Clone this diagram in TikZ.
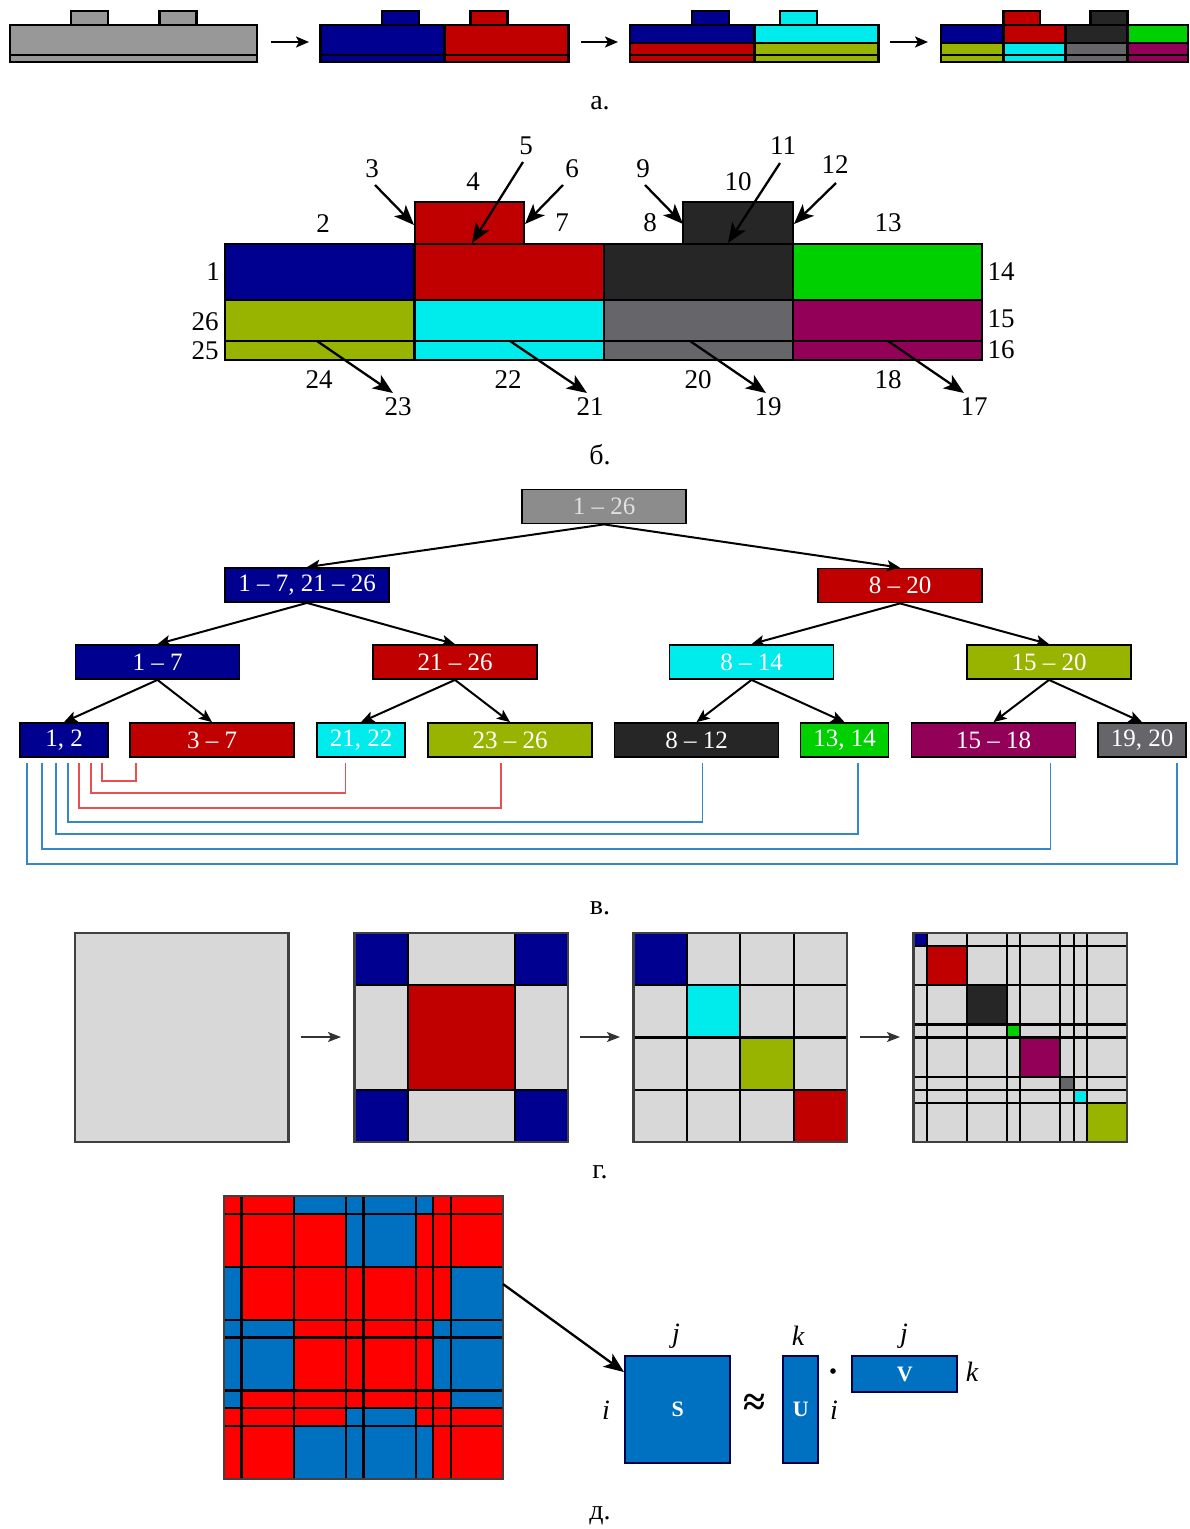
\documentclass[tikz,border=0pt]{standalone}
\usepackage{fontspec}
\setmainfont{Liberation Serif}
\usetikzlibrary{arrows.meta,calc}

\definecolor{cblue}{RGB}{0,0,144}
\definecolor{cred}{RGB}{192,0,0}
\definecolor{ccyan}{RGB}{0,235,235}
\definecolor{colive}{RGB}{153,180,0}
\definecolor{cdark}{RGB}{38,38,38}
\definecolor{cgreen}{RGB}{0,208,0}
\definecolor{cgray}{RGB}{102,102,106}
\definecolor{cpurple}{RGB}{147,0,88}
\definecolor{cbase}{RGB}{152,152,152}
\definecolor{croot}{RGB}{140,140,140}
\definecolor{clight}{RGB}{216,216,216}
\definecolor{mred}{RGB}{255,0,0}
\definecolor{mblue}{RGB}{0,112,192}
\definecolor{linkred}{RGB}{230,80,80}
\definecolor{linkblue}{RGB}{52,136,200}

\newcommand\bnumsize{\fontsize{27}{30}\selectfont}
\newcommand\treesize{\fontsize{25}{28}\selectfont}
\newcommand\capsize{\fontsize{28}{30}\selectfont}

% one row of the block matrix: #1,#2 row bounds in sixteenths, #3 cell colours
\newcommand\matrow[3]{%
  \foreach \cc [count=\c] in {#3} {
    \pgfmathsetmacro\xa{{0,1,4,7,8,11,12,13,16}[\c-1]}
    \pgfmathsetmacro\xb{{0,1,4,7,8,11,12,13,16}[\c]}
    \fill[\cc] (\mx+\xa*\mw/16,\my+#1*\mh/16) rectangle (\mx+\xb*\mw/16,\my+#2*\mh/16);
  }%
}

\begin{document}
\begin{tikzpicture}[x=1pt,y=-1pt,
  box/.style={draw=black,line width=2.4pt},
  bbox/.style={draw=black,line width=2.5pt},
  lab/.style={font=\bnumsize,inner sep=0pt},
  partcap/.style={font=\capsize,inner sep=0pt},
  barr/.style={-{Stealth[length=20pt,width=16pt,inset=5pt]},line width=2.3pt},
  sarr/.style={-{Stealth[length=13pt,width=11pt,inset=3pt]},line width=2.2pt},
  garr/.style={-{Stealth[length=13pt,width=10pt,inset=3pt]},line width=1.8pt,draw=black!80,fill=black!80},
  tarr/.style={-{Stealth[length=13pt,width=11pt,inset=3pt]},line width=2pt},
  tnode/.style={draw=black,line width=1.8pt,minimum height=34pt,inner sep=0pt,text=white,font=\treesize},
  wide/.style={tnode,minimum width=164pt},
  narrow/.style={tnode,minimum width=88pt},
  redlink/.style={draw=linkred,line width=1.7pt},
  bluelink/.style={draw=linkblue,line width=1.7pt},
  grid/.style={draw=black,line width=2.2pt},
  frame/.style={draw=black!75,line width=2.4pt},
  mat/.style={draw=blue!30!black,line width=2.4pt,fill=mblue},
  mlet/.style={text=white,font=\fontsize{22}{24}\selectfont\bfseries,inner sep=0pt},
  mvar/.style={font=\fontsize{28}{30}\selectfont\itshape,inner sep=0pt}
]
\useasboundingbox (0,0) rectangle (1189,1529);
\fill[white] (0,0) rectangle (1189,1529);

% ---------------- a: successive splitting of the layer stack ----------------
% stage 1
\filldraw[box,fill=cbase] (10,25) rectangle (257,55);
\filldraw[box,fill=cbase] (10,55) rectangle (257,62);
\filldraw[box,fill=cbase] (71,11) rectangle (108,25);
\filldraw[box,fill=cbase] (159.5,11) rectangle (196.5,25);
% stage 2
\filldraw[box,fill=cblue] (320.5,25) rectangle (444.5,55);
\filldraw[box,fill=cblue] (320.5,55) rectangle (444.5,62);
\filldraw[box,fill=cred] (444.5,25) rectangle (568.5,55);
\filldraw[box,fill=cred] (444.5,55) rectangle (568.5,62);
\filldraw[box,fill=cblue] (382,11) rectangle (419,25);
\filldraw[box,fill=cred] (470.5,11) rectangle (507.5,25);
% stage 3
\filldraw[box,fill=cblue] (630,25) rectangle (754.5,42.7);
\filldraw[box,fill=cred] (630,42.7) rectangle (754.5,55);
\filldraw[box,fill=cred] (630,55) rectangle (754.5,62);
\filldraw[box,fill=ccyan] (754.5,25) rectangle (878.5,42.7);
\filldraw[box,fill=colive] (754.5,42.7) rectangle (878.5,55);
\filldraw[box,fill=colive] (754.5,55) rectangle (878.5,62);
\filldraw[box,fill=cblue] (692,11) rectangle (729,25);
\filldraw[box,fill=ccyan] (780,11) rectangle (817,25);
% stage 4
\foreach \xa/\xb/\ca/\cb in {941/1003.5/cblue/colive,1003.5/1065.5/cred/ccyan,1065.5/1127.5/cdark/cgray,1127.5/1188/cgreen/cpurple}{
  \filldraw[box,fill=\ca] (\xa,25) rectangle (\xb,42.7);
  \filldraw[box,fill=\cb] (\xa,42.7) rectangle (\xb,55);
  \filldraw[box,fill=\cb] (\xa,55) rectangle (\xb,62);
}
\filldraw[box,fill=cred] (1003.5,11) rectangle (1040,25);
\filldraw[box,fill=cdark] (1090.5,11) rectangle (1127.5,25);
% arrows between stages
\coordinate (a1s) at (271,42);  \coordinate (a1e) at (309,42);
\coordinate (a2s) at (581,42);  \coordinate (a2e) at (618,42);
\coordinate (a3s) at (890,42);  \coordinate (a3e) at (928,42);
\draw[sarr] (a1s) -- (a1e);
\draw[sarr] (a2s) -- (a2e);
\draw[sarr] (a3s) -- (a3e);
\node[partcap] (capa) at (600,103) {а.};

% ---------------- b: numbered faces of the final decomposition ----------------
\filldraw[bbox,fill=cred] (415,202) rectangle (524,244);
\filldraw[bbox,fill=cdark] (683,202) rectangle (793,244);
\foreach \xa/\xb/\ca/\cb in {225/414.5/cblue/colive,414.5/604/cred/ccyan,604/793/cdark/cgray,793/982/cgreen/cpurple}{
  \filldraw[bbox,fill=\ca] (\xa,244) rectangle (\xb,300);
  \filldraw[bbox,fill=\cb] (\xa,300) rectangle (\xb,341);
  \filldraw[bbox,fill=\cb] (\xa,341) rectangle (\xb,360);
}
\node[lab] (n1) at (213,272) {1};
\node[lab] (n2) at (323,224) {2};
\node[lab] (n3) at (372,169) {3};
\node[lab] (n4) at (473,182) {4};
\node[lab] (n5) at (526,146) {5};
\node[lab] (n6) at (572,169) {6};
\node[lab] (n7) at (562,223) {7};
\node[lab] (n8) at (650,223) {8};
\node[lab] (n9) at (643,169) {9};
\node[lab] (n10) at (738,182) {10};
\node[lab] (n11) at (783,146) {11};
\node[lab] (n12) at (835,165) {12};
\node[lab] (n13) at (888,223) {13};
\node[lab] (n14) at (1001,272) {14};
\node[lab] (n15) at (1001,319) {15};
\node[lab] (n16) at (1001,350) {16};
\node[lab] (n17) at (974,407) {17};
\node[lab] (n18) at (888,380) {18};
\node[lab] (n19) at (768,407) {19};
\node[lab] (n20) at (698,380) {20};
\node[lab] (n21) at (590,407) {21};
\node[lab] (n22) at (508,380) {22};
\node[lab] (n23) at (398,407) {23};
\node[lab] (n24) at (319,380) {24};
\node[lab] (n25) at (205,351) {25};
\node[lab] (n26) at (205,322) {26};
% arrow tails and tips
\coordinate (t3) at (375,185);  \coordinate (h3) at (414,225);
\coordinate (t5) at (523,162);  \coordinate (h5) at (472,243);
\coordinate (t6) at (563,185);  \coordinate (h6) at (525,224);
\coordinate (t9) at (645,185);  \coordinate (h9) at (683,224);
\coordinate (t11) at (780,163); \coordinate (h11) at (728,243);
\coordinate (t12) at (836,183); \coordinate (h12) at (794,224);
\coordinate (t23) at (317,341); \coordinate (h23) at (393,393);
\coordinate (t21) at (510,341); \coordinate (h21) at (587,393);
\coordinate (t19) at (690,341); \coordinate (h19) at (766,393);
\coordinate (t17) at (888,341); \coordinate (h17) at (964,393);
\foreach \k in {3,5,6,9,11,12,23,21,19,17}
  \draw[barr] (t\k) -- (h\k);
\node[partcap] (capb) at (600,455) {б.};

% ---------------- c: partition tree ----------------
\node[wide,fill=croot,text=white!88!black] (root) at (604,506.5) {1 -- 26};
\node[wide,fill=cblue] (l1) at (307,585) {1 -- 7, 21 -- 26};
\node[wide,fill=cred] (r1) at (900,585.5) {8 -- 20};
\node[wide,fill=cblue] (l2a) at (157.5,662) {1 -- 7};
\node[wide,fill=cred] (l2b) at (455,662) {21 -- 26};
\node[wide,fill=ccyan] (r2a) at (751.5,662) {8 -- 14};
\node[wide,fill=colive] (r2b) at (1049,662) {15 -- 20};
\node[narrow,fill=cblue] (c12) at (64,740) {1, 2};
\node[wide,fill=cred] (c37) at (212,740) {3 -- 7};
\node[narrow,fill=ccyan] (c2122) at (361,740) {21, 22};
\node[wide,fill=colive] (c2326) at (510,740) {23 -- 26};
\node[wide,fill=cdark] (c812) at (696.5,740) {8 -- 12};
\node[narrow,fill=cgreen] (c1314) at (844.5,740) {13, 14};
\node[wide,fill=cpurple] (c1518) at (993.5,740) {15 -- 18};
\node[narrow,fill=cgray] (c1920) at (1142,740) {19, 20};
\foreach \p/\q in {root/l1,root/r1,l1/l2a,l1/l2b,r1/r2a,r1/r2b,l2a/c12,l2a/c37,l2b/c2122,l2b/c2326,r2a/c812,r2a/c1314,r2b/c1518,r2b/c1920}
  \draw[tarr] (\p.south) -- (\q.north);
% interaction links from the first leaf
\draw[redlink] ([xshift=83pt,yshift=-5pt]c12.south west) -- ++(0,18) -| ([xshift=7pt,yshift=-5pt]c37.south west);
\draw[redlink] ([xshift=72pt,yshift=-5pt]c12.south west) -- ++(0,30) -| ([xshift=29.5pt,yshift=-5pt]c2122.south west);
\draw[redlink] ([xshift=60pt,yshift=-5pt]c12.south west) -- ++(0,45) -| ([xshift=74pt,yshift=-5pt]c2326.south west);
\draw[bluelink] ([xshift=49pt,yshift=-5pt]c12.south west) -- ++(0,59) -| ([xshift=89pt,yshift=-5pt]c812.south west);
\draw[bluelink] ([xshift=37pt,yshift=-5pt]c12.south west) -- ++(0,71) -| ([xshift=58.5pt,yshift=-5pt]c1314.south west);
\draw[bluelink] ([xshift=23pt,yshift=-5pt]c12.south west) -- ++(0,86) -| ([xshift=140pt,yshift=-5pt]c1518.south west);
\draw[bluelink] ([xshift=8pt,yshift=-5pt]c12.south west) -- ++(0,101) -| ([xshift=80pt,yshift=-5pt]c1920.south west);
\node[partcap] (capc) at (600,908) {в.};

% ---------------- d: block structure of the matrix ----------------
\def\gw{213.5}\def\gh{209}\def\gy{933}
% level 0
\filldraw[frame,fill=clight] (75,\gy) rectangle ++(\gw,\gh);
% level 1
\def\gx{354.5}
\fill[clight] (\gx,\gy) rectangle ++(\gw,\gh);
\foreach \i/\j in {0/0,3/0,0/3,3/3}
  \fill[cblue] (\gx+\i*\gw/4,\gy+\j*\gh/4) rectangle ++(\gw/4,\gh/4);
\fill[cred] (\gx+\gw/4,\gy+\gh/4) rectangle ++(\gw/2,\gh/2);
\foreach \a in {1,3} {
  \draw[grid] (\gx+\a*\gw/4,\gy) -- ++(0,\gh);
  \draw[grid] (\gx,\gy+\a*\gh/4) -- ++(\gw,0);
}
\draw[frame] (\gx,\gy) rectangle ++(\gw,\gh);
% level 2
\def\gx{633.5}
\fill[clight] (\gx,\gy) rectangle ++(\gw,\gh);
\foreach \i/\cc in {0/cblue,1/ccyan,2/colive,3/cred}
  \fill[\cc] (\gx+\i*\gw/4,\gy+\i*\gh/4) rectangle ++(\gw/4,\gh/4);
\foreach \a in {1,2,3} {
  \draw[grid] (\gx+\a*\gw/4,\gy) -- ++(0,\gh);
  \draw[grid] (\gx,\gy+\a*\gh/4) -- ++(\gw,0);
}
\draw[frame] (\gx,\gy) rectangle ++(\gw,\gh);
% level 3
\def\gx{913.5}
\fill[clight] (\gx,\gy) rectangle ++(\gw,\gh);
\foreach \a/\b/\cc in {0/1/cblue,1/4/cred,4/7/cdark,7/8/cgreen,8/11/cpurple,11/12/cgray,12/13/ccyan,13/16/colive}
  \fill[\cc] (\gx+\a*\gw/16,\gy+\a*\gh/16) rectangle (\gx+\b*\gw/16,\gy+\b*\gh/16);
\foreach \a in {1,4,7,8,11,12,13} {
  \draw[grid] (\gx+\a*\gw/16,\gy) -- ++(0,\gh);
  \draw[grid] (\gx,\gy+\a*\gh/16) -- ++(\gw,0);
}
\draw[frame] (\gx,\gy) rectangle ++(\gw,\gh);
% arrows between levels
\coordinate (g1s) at (301,1037); \coordinate (g1e) at (341,1037);
\coordinate (g2s) at (580,1037); \coordinate (g2e) at (620,1037);
\coordinate (g3s) at (860,1037); \coordinate (g3e) at (900,1037);
\draw[garr] (g1s) -- (g1e);
\draw[garr] (g2s) -- (g2e);
\draw[garr] (g3s) -- (g3e);
\node[partcap] (capd) at (600,1172) {г.};

% ---------------- e: admissible blocks and low-rank factorisation ----------------
\def\mx{224}\def\my{1196}\def\mw{279}\def\mh{283}
\matrow{0}{1}{mred,mred,mblue,mblue,mblue,mblue,mred,mred}
\matrow{1}{4}{mred,mred,mred,mblue,mblue,mred,mred,mred}
\matrow{4}{7}{mblue,mred,mred,mred,mred,mred,mred,mblue}
\matrow{7}{8}{mblue,mblue,mred,mred,mred,mred,mblue,mblue}
\matrow{8}{11}{mblue,mblue,mred,mred,mred,mred,mblue,mblue}
\matrow{11}{12}{mblue,mred,mred,mred,mred,mred,mred,mblue}
\matrow{12}{13}{mred,mred,mred,mblue,mblue,mred,mred,mred}
\matrow{13}{16}{mred,mred,mblue,mblue,mblue,mblue,mred,mred}
\foreach \a in {1,4,7,8,11,12,13} {
  \draw[grid] (\mx+\a*\mw/16,\my) -- ++(0,\mh);
  \draw[grid] (\mx,\my+\a*\mh/16) -- ++(\mw,0);
}
\draw[frame] (\mx,\my) rectangle ++(\mw,\mh);
\coordinate (mout) at (503,1284);

\node[mat,minimum width=105pt,minimum height=107pt,inner sep=0pt,anchor=north west] (S) at (624,1355) {};
\node[mat,minimum width=35pt,minimum height=107pt,inner sep=0pt,anchor=north west] (U) at (782,1355) {};
\node[mat,minimum width=105pt,minimum height=36pt,inner sep=0pt,anchor=north west] (V) at (851,1355) {};
\node[mlet] (Sl) at (S.center) {S};
\node[mlet] (Ul) at (U.center) {U};
\node[mlet] (Vl) at (V.center) {V};
\node[mvar] (Sj) at (676,1336) {j};
\node[mvar] (Si) at (606,1410) {i};
\node[mvar] (Uk) at (798,1336) {k};
\node[mvar] (Ui) at (834,1410) {i};
\node[mvar] (Vj) at (904,1336) {j};
\node[mvar] (Vk) at (972,1372) {k};
\node[inner sep=0pt,font=\fontsize{40}{42}\selectfont\bfseries] (approx) at (754,1405) {≈};
\fill[black] (833,1371) circle (2.8) coordinate (dot);
\draw[barr] (mout) -- ([yshift=-17pt]S.north west);
\node[partcap] (cape) at (600,1516) {д.};
\end{tikzpicture}
\end{document}
